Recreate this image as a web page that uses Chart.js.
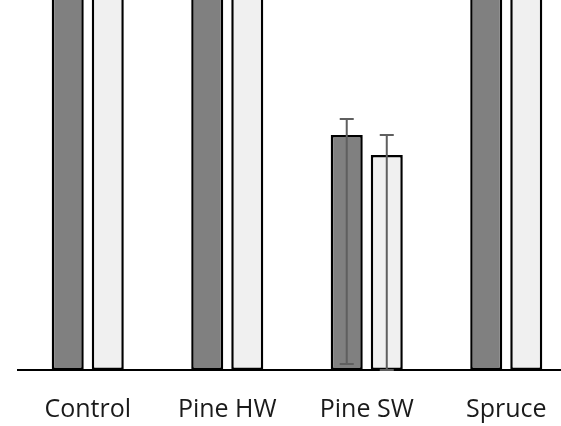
<!DOCTYPE html>
<html>
<head>
<meta charset="utf-8">
<script src="https://cdn.jsdelivr.net/npm/chart.js@4.4.1/dist/chart.umd.min.js"></script>
<style>
  html, body { margin: 0; padding: 0; background: #fff; overflow: hidden; }
  #wrap { width: 580px; height: 426px; position: relative; }
</style>
</head>
<body>
<div id="wrap"><canvas id="chart"></canvas></div>
<script>
const categories = ['Control', 'Pine HW', 'Pine SW', 'Spruce'];
// bars in Control, Pine HW and Spruce run off the top of the picture
const darkValues = [480, 480, 235, 480];
const lightValues = [480, 480, 215, 480];
const darkErrUp = [null, null, 16, null];
const darkErrDown = [null, null, 229, null];
const lightErrUp = [null, null, 20, null];
const lightErrDown = [null, null, 215, null];

const errorBars = {
    id: 'errorBars',
    afterDatasetsDraw(chart) {
        const ctx = chart.ctx;
        const y = chart.scales.y;
        chart.data.datasets.forEach((ds, di) => {
            if (!ds.errUp) return;
            const meta = chart.getDatasetMeta(di);
            meta.data.forEach((bar, i) => {
                if (ds.errUp[i] == null) return;
                const v = ds.data[i];
                const top = y.getPixelForValue(v + ds.errUp[i]);
                const bot = y.getPixelForValue(v - ds.errDown[i]);
                ctx.save();
                ctx.strokeStyle = '#5f5f5f';
                ctx.lineWidth = 2;
                ctx.beginPath();
                ctx.moveTo(bar.x, top);
                ctx.lineTo(bar.x, bot);
                ctx.moveTo(bar.x - 7, top);
                ctx.lineTo(bar.x + 7, top);
                ctx.moveTo(bar.x - 7, bot);
                ctx.lineTo(bar.x + 7, bot);
                ctx.stroke();
                ctx.restore();
            });
        });
    }
};

new Chart(document.getElementById('chart'), {
    type: 'bar',
    data: {
        labels: categories,
        datasets: [
            {
                data: darkValues,
                errUp: darkErrUp,
                errDown: darkErrDown,
                backgroundColor: '#808080',
                borderColor: '#000',
                borderWidth: 2.5,
                borderSkipped: false
            },
            {
                data: lightValues,
                errUp: lightErrUp,
                errDown: lightErrDown,
                backgroundColor: '#f0f0f0',
                borderColor: '#000',
                borderWidth: 2.5,
                borderSkipped: false
            }
        ]
    },
    options: {
        responsive: true,
        maintainAspectRatio: false,
        animation: false,
        categoryPercentage: 0.574,
        barPercentage: 0.8,
        layout: { padding: { left: 18, right: 4, top: 0, bottom: 0 } },
        plugins: { legend: { display: false }, tooltip: { enabled: false } },
        scales: {
            x: {
                grid: { display: false },
                border: { display: true, color: '#000', width: 2 },
                ticks: { color: '#1a1a1a', font: { family: 'Open Sans', size: 25 }, padding: 17 },
                afterFit(scale) { scale.height = 56; }
            },
            y: {
                display: false,
                min: 0,
                max: 370
            }
        }
    },
    plugins: [errorBars]
});
</script>
</body>
</html>
